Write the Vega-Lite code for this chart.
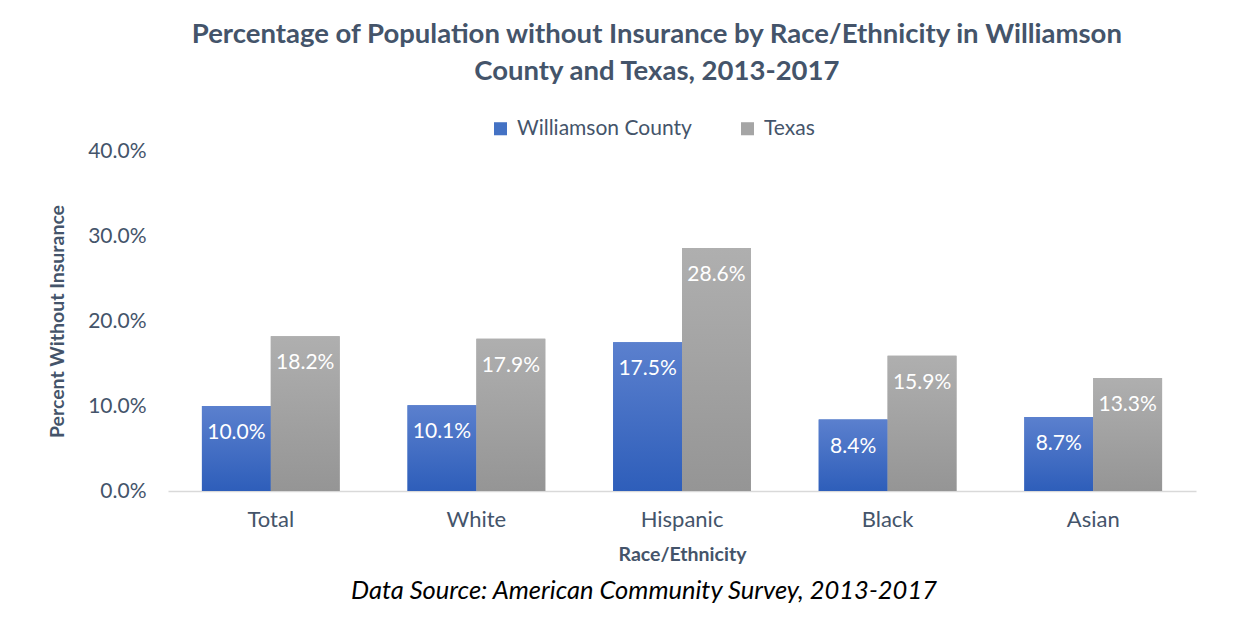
{
  "$schema": "https://vega.github.io/schema/vega-lite/v6.json",
  "background": "white",
  "padding": {"left": 47, "top": 20, "right": 10, "bottom": 5},
  "title": {
    "text": ["Percentage of Population without Insurance by Race/Ethnicity in Williamson", "County and Texas, 2013-2017"],
    "font": "Lato",
    "fontSize": 27.5,
    "fontWeight": "bold",
    "color": "#44546A",
    "lineHeight": 37,
    "anchor": "middle",
    "offset": 33,
    "dx": 35
  },
  "config": {
    "font": "Lato",
    "view": {"stroke": null},
    "axis": {"labelColor": "#44546A", "titleColor": "#44546A", "labelFont": "Lato", "titleFont": "Lato"}
  },
  "vconcat": [
    {
      "width": 1028,
      "height": 340,
      "title": {
        "text": "Data Source: American Community Survey, 2013-2017",
        "orient": "bottom",
        "font": "Lato",
        "fontSize": 25.5,
        "fontStyle": "italic",
        "fontWeight": "normal",
        "color": "#000000",
        "anchor": "middle",
        "offset": 15,
        "dx": -38
      },
      "data": {
        "values": [
          {"group": "Total", "series": "Williamson County", "value": 0.100},
          {"group": "Total", "series": "Texas", "value": 0.182},
          {"group": "White", "series": "Williamson County", "value": 0.101},
          {"group": "White", "series": "Texas", "value": 0.179},
          {"group": "Hispanic", "series": "Williamson County", "value": 0.175},
          {"group": "Hispanic", "series": "Texas", "value": 0.286},
          {"group": "Black", "series": "Williamson County", "value": 0.084},
          {"group": "Black", "series": "Texas", "value": 0.159},
          {"group": "Asian", "series": "Williamson County", "value": 0.087},
          {"group": "Asian", "series": "Texas", "value": 0.133}
        ]
      },
      "encoding": {
        "x": {
          "field": "group",
          "type": "nominal",
          "sort": ["Total", "White", "Hispanic", "Black", "Asian"],
          "scale": {"paddingInner": 0.33, "paddingOuter": 0.165},
          "axis": {
            "title": "Race/Ethnicity",
            "titleFontSize": 19.5,
            "titleFontWeight": "bold",
            "titlePadding": 15,
            "labelFontSize": 22,
            "labelAngle": 0,
            "labelPadding": 18,
            "ticks": false,
            "domainColor": "#D9D9D9",
            "domainWidth": 1.5,
            "grid": false
          }
        },
        "xOffset": {
          "field": "series",
          "type": "nominal",
          "scale": {"domain": ["Williamson County", "Texas"]}
        },
        "y": {
          "field": "value",
          "type": "quantitative",
          "scale": {"domain": [0, 0.4]},
          "axis": {
            "title": "Percent Without Insurance",
            "titleFontSize": 19.5,
            "titleFontWeight": "bold",
            "titlePadding": 20,
            "format": ".1%",
            "values": [0, 0.1, 0.2, 0.3, 0.4],
            "labelFontSize": 21,
            "labelPadding": 22,
            "ticks": false,
            "domain": false,
            "grid": false
          }
        }
      },
      "layer": [
        {
          "mark": {"type": "bar"},
          "encoding": {
            "color": {
              "field": "series",
              "type": "nominal",
              "scale": {"domain": ["Williamson County", "Texas"], "range": ["#4472C4", "#A5A5A5"]},
              "legend": {
                "title": null,
                "orient": "none",
                "direction": "horizontal",
                "legendX": 322,
                "legendY": -33,
                "symbolType": "square",
                "symbolSize": 170,
                "symbolStrokeWidth": 0,
                "labelFont": "Lato",
                "labelFontSize": 21,
                "labelLimit": 400,
                "labelColor": "#44546A",
                "labelOffset": 6,
                "columnPadding": 45
              }
            }
          }
        },
        {
          "transform": [{"filter": "datum.series === 'Williamson County'"}],
          "mark": {
            "type": "bar",
            "color": {
              "gradient": "linear", "x1": 0, "y1": 0, "x2": 0, "y2": 1,
              "stops": [{"offset": 0, "color": "#5B80CE"}, {"offset": 1, "color": "#2E5EBA"}]
            }
          }
        },
        {
          "transform": [{"filter": "datum.series === 'Texas'"}],
          "mark": {
            "type": "bar",
            "color": {
              "gradient": "linear", "x1": 0, "y1": 0, "x2": 0, "y2": 1,
              "stops": [{"offset": 0, "color": "#AFAFAF"}, {"offset": 1, "color": "#959595"}]
            }
          }
        },
        {
          "mark": {"type": "text", "color": "white", "fontSize": 21, "font": "Lato", "baseline": "middle", "dy": 27},
          "encoding": {"text": {"field": "value", "type": "quantitative", "format": ".1%"}}
        }
      ]
    }
  ]
}
